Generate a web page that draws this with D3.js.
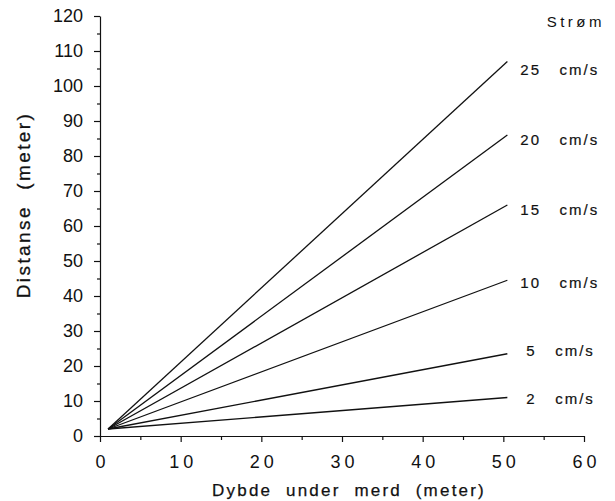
<!DOCTYPE html>
<html>
<head>
<meta charset="utf-8">
<script src="https://cdn.jsdelivr.net/npm/d3@7"></script>
<style>
  body { margin: 0; background: #fff; }
  text { font-family: "Liberation Sans", Arial, sans-serif; fill: #111; }
</style>
</head>
<body>
<svg id="chart" width="615" height="501"></svg>
<script>
// current speeds (cm/s) and line end points
const speeds = [25, 20, 15, 10, 5, 2];
const startDepth = 1, startDist = 2;
const endDepth = 50.5;
const endDist = [107, 86, 66, 44.5, 23.5, 11];
const labelDist = [105, 85, 65, 44, 24.5, 11];   // where the labels sit, in distance units
const xTicks = [0, 10, 20, 30, 40, 50, 60];
const yTicks = [0, 10, 20, 30, 40, 50, 60, 70, 80, 90, 100, 110, 120];

const svg = d3.select("#chart"),
      margin = { top: 16, right: 31, bottom: 65, left: 100 },
      width = 615 - margin.left - margin.right,
      height = 501 - margin.top - margin.bottom;

const chart = svg.append("g")
    .attr("transform", `translate(${margin.left},${margin.top})`);

const x = d3.scaleLinear().domain([0, 60]).range([0, width]);
const y = d3.scaleLinear().domain([0, 120]).range([height, 0]);

// minor ticks every 5
chart.append("g")
    .attr("transform", `translate(0,${height})`)
    .call(d3.axisBottom(x).tickValues(d3.range(5, 60, 10)).tickSize(4).tickFormat(""))
    .call(g => g.select(".domain").remove());
chart.append("g")
    .call(d3.axisLeft(y).tickValues(d3.range(5, 120, 10)).tickSize(3).tickFormat(""))
    .call(g => g.select(".domain").remove());

// x axis
const xAxis = chart.append("g")
    .attr("transform", `translate(0,${height})`)
    .call(d3.axisBottom(x).tickValues(xTicks).tickSize(6).tickSizeOuter(0).tickPadding(13));
xAxis.selectAll("text")
    .style("font-size", "18px")
    .attr("letter-spacing", "4px")
    .attr("dx", "2px");

// y axis
const yAxis = chart.append("g")
    .call(d3.axisLeft(y).tickValues(yTicks).tickSize(6).tickSizeOuter(0).tickPadding(11));
yAxis.selectAll("text")
    .style("font-size", "18px");

chart.selectAll(".domain, .tick line").attr("stroke", "#111").attr("stroke-width", 1.2);

// lines
const line = d3.line().x(d => x(d[0])).y(d => y(d[1]));
chart.selectAll(".speed")
    .data(speeds)
    .enter()
    .append("path")
    .attr("class", "speed")
    .attr("d", (d, i) => line([[startDepth, startDist], [endDepth, endDist[i]]]))
    .attr("fill", "none")
    .attr("stroke", "#111")
    .attr("stroke-width", 1.3);

// labels
chart.selectAll(".lab")
    .data(speeds)
    .enter()
    .append("text")
    .attr("class", "lab")
    .attr("x", (d, i) => x(endDepth) + (d >= 10 ? 13 : 19))
    .attr("y", (d, i) => y(labelDist[i]) + 6)
    .style("font-size", "15px")
    .attr("letter-spacing", "2px")
    .attr("stroke", "#111")
    .attr("stroke-width", 0.2)
    .attr("xml:space", "preserve")
    .text(d => `${d}   cm/s`);

chart.append("text")
    .attr("x", width + 21)
    .attr("y", 11)
    .attr("text-anchor", "end")
    .style("font-size", "15px")
    .attr("letter-spacing", "3.5px")
    .text("Strøm");

// axis titles
svg.append("text")
    .attr("x", margin.left + width / 2 + 7)
    .attr("y", 496)
    .attr("text-anchor", "middle")
    .style("font-size", "17px")
    .attr("stroke", "#111")
    .attr("stroke-width", 0.25)
    .attr("letter-spacing", "2.2px")
    .attr("xml:space", "preserve")
    .text("Dybde  under  merd  (meter)");

svg.append("text")
    .attr("transform", `translate(30,205) rotate(-90)`)
    .attr("text-anchor", "middle")
    .style("font-size", "19px")
    .attr("stroke", "#111")
    .attr("stroke-width", 0.3)
    .attr("letter-spacing", "2.4px")
    .attr("xml:space", "preserve")
    .text("Distanse  (meter)");
</script>
</body>
</html>
